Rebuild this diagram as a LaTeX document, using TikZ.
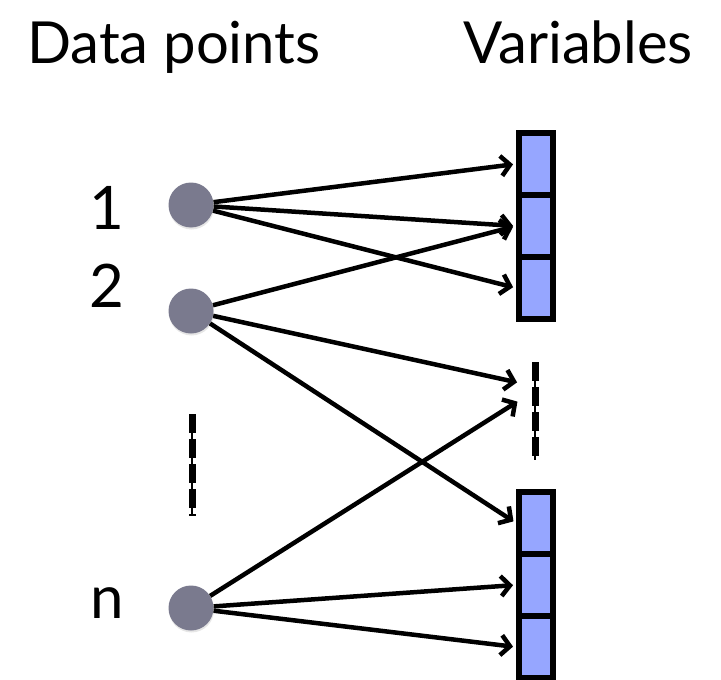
\documentclass[tikz,border=0pt]{standalone}
\usepackage{fontspec}
\setmainfont{Lato}
\usetikzlibrary{arrows.meta,shadows}
\definecolor{pointgray}{RGB}{122,122,142}
\definecolor{varblue}{RGB}{150,166,255}
\begin{document}
\begin{tikzpicture}
    [   x=1pt,y=-1pt,
        dpoint/.style={circle,fill=pointgray,minimum size=45pt,inner sep=0pt,
            drop shadow={opacity=0.2,shadow xshift=0.5pt,shadow yshift=-2pt}},
        cell/.style={draw=black,fill=varblue,line width=6pt,minimum width=34pt,
            minimum height=62pt,inner sep=0pt},
        link/.style={-{Straight Barb[length=9pt,width=20pt]},line width=4.5pt,shorten >=3pt},
        dotline/.style={line width=7pt,dash pattern=on 19pt off 6pt},
        title/.style={font=\fontsize{58}{66}\selectfont,anchor=base},
        idx/.style={font=\fontsize{60}{68}\selectfont,anchor=base},
    ]
        \useasboundingbox (0,0) rectangle (721,680);
        \node[title] (tdata) at (174,63) {Data points};
        \node[title] (tvar) at (578,63) {Variables};
        % data points and their numbers
        \foreach \i/\y in {1/205,2/311,n/608}
            \node[dpoint] (d\i) at (191,\y) {};
        \foreach \i/\y in {1/229,2/307,n/618}
            \node[idx] (l\i) at (107,\y) {\i};
        % variable blocks
        \foreach \j in {1,2,3}
        {   \node[cell] (a\j) at (536,{102+62*\j}) {};
            \node[cell] (b\j) at (536,{461+62*\j}) {};
        }
        % vertical dashes
        \coordinate (ltop) at (192,414);
        \coordinate (lbot) at (192,516);
        \coordinate (rtop) at (535,362);
        \coordinate (rbot) at (535,460);
        \draw[line width=1.5pt] (ltop) -- (lbot);
        \draw[dotline] (ltop) -- (lbot);
        \draw[line width=1.5pt] (rtop) -- (rbot);
        \draw[dotline] (rtop) -- (rbot);
        \coordinate (vin-a) at (520,383);
        \coordinate (vin-b) at (520,400);
        % links
        \foreach \t in {a1,a2,a3}
            \draw[link] (d1) -- (\t.west);
        \foreach \t in {a2.west,vin-a,b1.west}
            \draw[link] (d2) -- (\t);
        \foreach \t in {vin-b,b2.west,b3.west}
            \draw[link] (dn) -- (\t);
\end{tikzpicture}
\end{document}
